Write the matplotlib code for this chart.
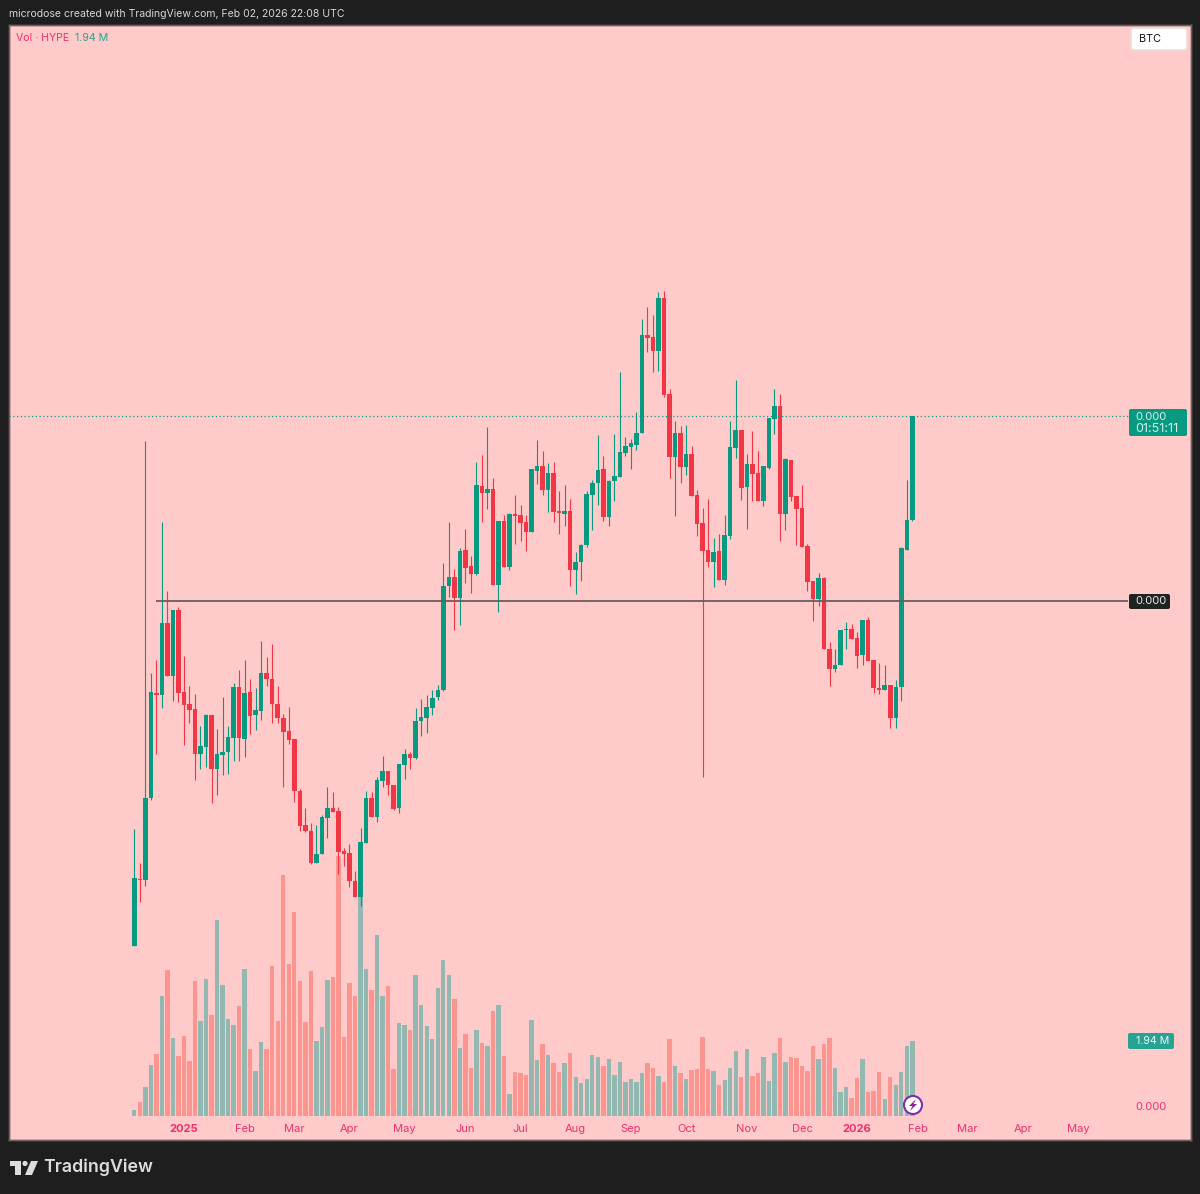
import matplotlib
matplotlib.use("Agg")
import matplotlib.pyplot as plt
from matplotlib.patches import Circle, FancyBboxPatch, Polygon, Rectangle

plt.rcParams['font.family'] = ['Inter', 'DejaVu Sans']

opens = [194, 261.3, 260, 341.7, 447, 444.7, 517.3, 464, 530, 447.7, 435.7, 430.7, 386, 393.3, 424.7, 371, 385, 388, 402, 453.3,
         401.3, 448, 425, 429.3, 467.3, 461, 436.3, 422, 408.7, 400.7, 349, 314.7, 309, 277.3, 285.7, 322, 332.3, 328.7, 289, 286.7,
         259.3, 243, 297.3, 342, 323, 359.3, 369.3, 355.3, 332, 375.3, 385.7, 382.3, 419, 422, 432, 443, 450, 554, 563.3, 542.3,
         589.7, 574, 566.3, 654, 647, 650.7, 554.7, 619.3, 573.3, 626.3, 624.7, 617.7, 608, 669.3, 674.3, 649.7, 667.3, 628.7, 626.3, 629,
         569.7, 577.7, 594.7, 645, 656.7, 671, 623, 658.7, 663, 687, 693, 695, 706.7, 805, 803.3, 789.3, 842.3, 745.7, 683.3, 707.3,
         673, 686, 645, 617, 590, 578.3, 589, 560, 604.3, 692, 710, 653.3, 676, 667.3, 639, 672.3, 721, 734, 625.7, 680,
         644.3, 632, 593.7, 559, 541.3, 561.7, 491.3, 471.3, 474.7, 510, 511, 502, 485.3, 520, 479.7, 452.3, 450, 455, 421.7, 452.7,
         590.3, 620]
highs = [310.7, 276.7, 699.3, 467.3, 480, 617.7, 549, 530, 533.3, 484.3, 454, 446, 414, 425.7, 424.7, 411.3, 443.3, 414, 457, 470,
         480, 460.7, 451.7, 498.7, 483.3, 495.7, 454, 425.7, 432.7, 400.7, 350.7, 331.7, 317.3, 314.7, 325.3, 352.7, 348.3, 333, 292.3, 296,
         269.3, 312, 349.3, 348.3, 363.3, 384, 369.3, 355.3, 375.7, 391, 388.3, 432, 440.7, 445, 450, 455, 576.7, 618.3, 570.7, 591.7,
         610.7, 584, 678, 685, 712.7, 661.7, 619.3, 624.7, 627.3, 645, 635.3, 624.7, 670.7, 700, 689.3, 677, 677.7, 648.7, 654.7, 640.7,
         587.7, 596, 648.7, 660, 705, 684, 660, 706.5, 767.7, 702.7, 701, 728, 821, 833.3, 824.7, 847.7, 848.7, 751, 719, 713.7,
         714.7, 693.7, 650.3, 632, 640.7, 602.3, 606, 625, 719, 759.7, 710, 685.7, 709, 688.7, 674, 722.3, 751, 745.7, 682, 680,
         644.3, 654.7, 596.3, 559, 567, 563.3, 498.3, 491.3, 510, 518, 515.7, 507.7, 520, 522.7, 479.7, 476.7, 474.7, 455, 459.7, 593,
         660, 724]
lows = [194, 238.3, 254.3, 339.7, 386, 432.3, 464, 439.3, 438.3, 395, 417.3, 360, 371, 373.3, 337.3, 345, 365.3, 366.3, 379.3, 379,
        383, 406.3, 410, 419.7, 454.3, 417, 417, 353.3, 395.7, 338, 308.7, 308.3, 276.3, 277.3, 285.7, 302.3, 328, 266, 274.3, 253,
        243, 234.3, 297.3, 323, 317.7, 353, 345, 330, 327.3, 361, 370.7, 380.7, 403.7, 407, 425, 440, 449, 543.3, 510, 515,
        557.3, 546.7, 565.3, 618.3, 631, 554.7, 528.3, 573.3, 569.7, 596.3, 599, 589.3, 608, 656.3, 645.3, 628, 617.7, 606.3, 614.3, 554.3,
        546, 559, 593, 609.7, 635.3, 619.3, 614, 639, 663, 684, 671, 689.7, 706.7, 788.3, 767.7, 769, 743.3, 662.3, 624, 656.7,
        665, 644.3, 604.3, 363, 573.3, 553, 560, 554.7, 601, 682.3, 640, 611.3, 639, 639, 634, 671, 705.7, 599, 609.7, 639,
        595.3, 593, 549, 519.3, 534.3, 491, 454.3, 468.3, 474.7, 491.3, 501.3, 472, 475, 479, 447, 446.3, 450, 412, 412, 439.3,
        590.3, 618.7]
closes = [262, 260, 342, 447.7, 444.7, 516.7, 464, 530, 447.3, 435, 430, 386, 393.7, 424.7, 371, 385.7, 388.3, 402.7, 453.3, 402,
          447, 424.3, 430, 467.3, 460.7, 435.7, 421.7, 408, 400.3, 348.7, 314, 309, 277.3, 286, 322.7, 332.3, 328, 288, 286, 259,
          243, 297.7, 342, 323, 360, 368.7, 355, 330.7, 375.7, 385.7, 381.7, 419.3, 422.7, 433, 442, 450, 554.3, 563.3, 541.7, 589,
          572.3, 566.3, 655, 647.3, 650.7, 554.7, 619.3, 573.3, 625.7, 624, 617, 608, 670.7, 673.7, 649.7, 667.3, 627.7, 627, 629, 569.7,
          577.7, 595.3, 646, 656.7, 670, 623, 659.3, 664, 687.7, 694, 697, 707, 805, 802.3, 789, 842.3, 745, 683.3, 707.3, 673,
          686, 644.3, 616, 589.3, 577.7, 588.3, 560, 605, 693, 710, 652.3, 676, 665.7, 639, 673.7, 722.3, 734, 625.7, 681, 643.3,
          631, 593, 558.3, 541, 561.7, 491, 471.3, 475.3, 510, 511, 501.3, 484.3, 520, 479, 452, 450, 455, 421.7, 453, 592,
          620, 724]
volumes = [0.14, 0.34, 0.75, 1.31, 1.59, 3.09, 3.77, 2.00, 1.54, 2.07, 1.42, 3.49, 2.45, 3.53, 2.60, 5.05, 3.38, 2.50, 2.34, 2.83,
           3.79, 1.72, 1.16, 1.91, 1.72, 3.86, 2.44, 6.22, 3.91, 5.26, 3.47, 2.41, 3.74, 1.93, 2.29, 3.51, 3.59, 6.72, 2.03, 3.42,
           3.10, 5.71, 3.79, 3.26, 4.66, 3.09, 3.35, 1.21, 2.39, 2.34, 2.21, 3.64, 2.86, 2.32, 1.97, 3.30, 4.03, 3.64, 3.01, 1.74,
           2.11, 1.22, 2.21, 1.88, 1.81, 2.71, 2.86, 1.53, 0.57, 1.12, 1.09, 1.05, 2.47, 1.44, 1.84, 1.58, 1.35, 1.12, 1.35, 1.63,
           1.00, 0.84, 0.94, 1.56, 1.51, 1.28, 1.47, 1.05, 1.38, 0.87, 0.94, 0.87, 1.09, 1.35, 1.23, 1.03, 0.87, 1.97, 1.28, 1.10,
           0.94, 1.17, 1.20, 2.04, 1.21, 1.15, 0.80, 0.91, 1.22, 1.67, 1.01, 1.72, 1.03, 1.10, 1.52, 0.90, 1.63, 2.02, 1.38, 1.52,
           1.49, 1.28, 1.15, 1.81, 1.47, 1.86, 2.00, 1.23, 0.61, 0.75, 0.46, 0.97, 1.47, 0.61, 0.64, 1.12, 0.43, 1.01, 0.78, 1.12,
           1.81, 1.94]
tick_positions = [9, 20, 29, 39, 49, 60, 70, 80, 90, 100, 111, 121, 131, 142, 151, 161, 171]
tick_labels = ['2025', 'Feb', 'Mar', 'Apr', 'May', 'Jun', 'Jul', 'Aug', 'Sep', 'Oct', 'Nov', 'Dec', '2026', 'Feb', 'Mar', 'Apr', 'May']
last_price = 724
support_level = 539

GREEN = '#089981'
RED = '#f23645'
VOL_GREEN = '#93b8b1'
VOL_RED = '#fc9490'
PINK = '#ffcaca'
DARK = '#1e1e1e'
LABEL_PINK = '#f0306e'

fig = plt.figure(figsize=(12, 11.94), dpi=100, facecolor=DARK)
rect = [9 / 1200, 1 - 1140 / 1194, 1181.5 / 1200, 1115.5 / 1194]

# volume goes in its own axes, under the candles
ax_vol = fig.add_axes(rect, zorder=1, facecolor=PINK)
ax = fig.add_axes(rect, zorder=2, facecolor='none')

x = list(range(len(opens)))
up = [c >= o for o, c in zip(opens, closes)]

ax_vol.bar(x, volumes, width=0.8, color=[VOL_GREEN if u else VOL_RED for u in up], linewidth=0)
ax_vol.set_ylim(-0.63, 28.21)
ax_vol.set_yticks([])

candle_colors = [GREEN if u else RED for u in up]
ax.vlines(x, lows, highs, colors=candle_colors, linewidth=0.8)
ax.bar(x, [abs(c - o) for o, c in zip(opens, closes)], bottom=[min(o, c) for o, c in zip(opens, closes)],
       width=0.82, color=candle_colors, linewidth=0)

ax.axhline(last_price, xmax=(1128 - 9) / 1181.5, color=GREEN, linewidth=0.9, linestyle=(0, (1, 2)))
ax.plot([4, 180], [support_level, support_level], color='#6a5e5e', linewidth=1.3, solid_capstyle='butt')

ax.set_ylim(0, 1115.5)
ax.set_yticks([])
ax.set_xticks(tick_positions)
ax.set_xticklabels(tick_labels, fontsize=8, color=LABEL_PINK)
for t in ax.get_xticklabels():
    if t.get_text() in ('2025', '2026'):
        t.set_fontweight('bold')
ax.tick_params(axis='x', length=0, pad=-11.2)
ax_vol.set_xticks([])
ax.set_xlim(-22.7, 191.41)
ax_vol.set_xlim(-22.7, 191.41)
for a in (ax, ax_vol):
    for s in a.spines.values():
        s.set_color('#6e5e5e')
        s.set_linewidth(1)

# overlay in pixel coordinates for the TradingView chrome
over = fig.add_axes([0, 0, 1, 1], zorder=3, facecolor='none')
over.set_xlim(0, 1200)
over.set_ylim(1194, 0)
over.axis('off')

over.text(9, 14, 'microdose created with TradingView.com, Feb 02, 2026 22:08 UTC', color='#d6d6d6',
          fontsize=7.55, va='center')
over.text(16, 38, 'Vol · HYPE', color=LABEL_PINK, fontsize=7.6, va='center')
over.text(75, 38, '1.94 M', color='#2a9d8f', fontsize=7.6, va='center')

over.add_patch(FancyBboxPatch((1131, 28), 56, 22, boxstyle='round,pad=0,rounding_size=3', fc='white', ec='#f2dcdc', lw=1.2))
over.text(1139, 39, 'BTC', color='#131722', fontsize=7.8, va='center')

over.add_patch(FancyBboxPatch((1129, 409), 58, 27, boxstyle='round,pad=0,rounding_size=2', fc=GREEN, ec='none'))
over.text(1135, 416.5, '0.000', color='#d8f0ea', fontsize=8, va='center')
over.text(1135, 428.5, '01:51:11', color='#d8f0ea', fontsize=9, va='center')

over.add_patch(FancyBboxPatch((1129, 594), 41, 15, boxstyle='round,pad=0,rounding_size=2', fc='#1f2423', ec='none'))
over.text(1135, 601.5, '0.000', color='#e8e8e8', fontsize=8, va='center')

over.add_patch(FancyBboxPatch((1128, 1033), 46, 16, boxstyle='round,pad=0,rounding_size=2', fc='#26a392', ec='none'))
over.text(1136, 1041, '1.94 M', color='#f0fbf8', fontsize=7.6, va='center')
over.text(1135, 1107, '0.000', color=LABEL_PINK, fontsize=8, va='center')

# lightning badge
over.add_patch(Circle((913, 1105), 9, fc='white', ec='#7b2fb0', lw=1.5))
over.add_patch(Polygon([(916, 1099), (909, 1106), (912.5, 1106), (910, 1111), (917, 1104), (913.5, 1104)], fc='#8e24aa', ec='none'))

# TradingView logo
over.add_patch(Rectangle((10, 1161), 11, 5, fc='#dcdcdc', ec='none'))
over.add_patch(Rectangle((15, 1166), 6, 9, fc='#dcdcdc', ec='none'))
over.add_patch(Circle((25, 1163.5), 2.6, fc='#dcdcdc', ec='none'))
over.add_patch(Polygon([(31, 1161), (38, 1161), (32, 1175), (25, 1175)], fc='#dcdcdc', ec='none'))
over.text(43, 1167.5, 'TradingView', color='#dcdcdc', fontsize=12.8, fontweight='semibold', va='center')

fig.savefig('out.png', dpi=100, facecolor=DARK)
